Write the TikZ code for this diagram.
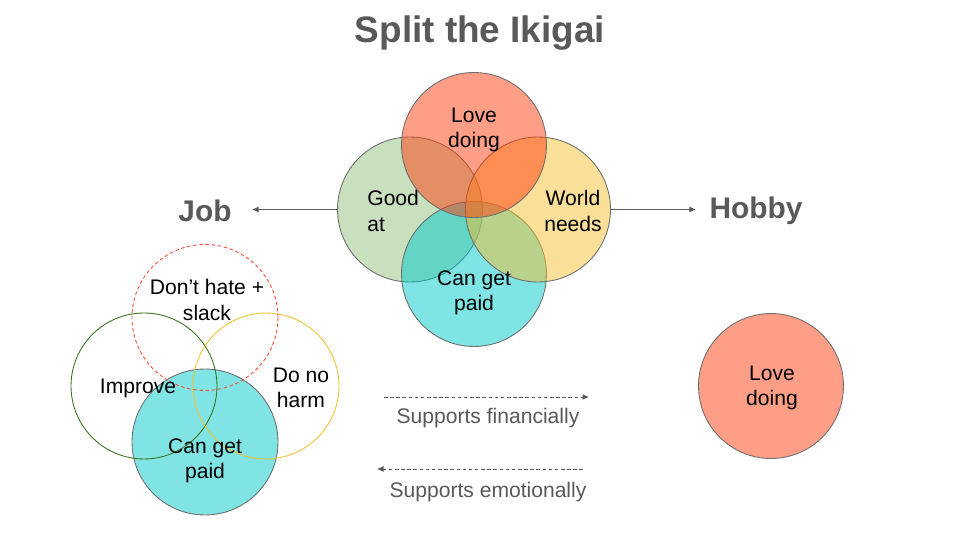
\documentclass[tikz,border=0pt]{standalone}
\usepackage{fontspec}
\setmainfont{Liberation Sans}
\usetikzlibrary{arrows.meta}
\definecolor{lovecol}{HTML}{FF3D0F}
\definecolor{goodcol}{HTML}{93C17F}
\definecolor{worldcol}{HTML}{F3BF31}
\definecolor{paidcol}{HTML}{00C9C9}
\definecolor{lovesolid}{HTML}{FF9E87}
\definecolor{paidsolid}{HTML}{80E4E4}
\definecolor{ringgray}{HTML}{6E6E6E}
\definecolor{headgray}{HTML}{595959}
\definecolor{improvecol}{HTML}{38761D}
\definecolor{harmcol}{HTML}{F1C232}
\definecolor{slackcol}{HTML}{FF4A35}

\begin{document}
\begin{tikzpicture}[x=0.02cm,y=-0.02cm,ring/.style={circle,draw=ringgray,line width=0.5pt,minimum size=2.9cm,inner sep=0pt},txt/.style={font=\fontsize{12}{14.4}\selectfont,align=center,inner sep=0pt},head/.style={font=\fontsize{17}{20}\selectfont\bfseries,text=headgray,inner sep=0pt},arrow/.style={-{Latex[length=1.3mm,width=1.2mm]},line width=0.5pt,draw=headgray},dasharrow/.style={arrow,dash pattern=on 2pt off 1.5pt},note/.style={font=\fontsize{12}{14.4}\selectfont,text=headgray,inner sep=0pt}]
\useasboundingbox (0,0) rectangle (960,540);
\node[font=\fontsize{21}{25}\selectfont\bfseries,text=headgray] (title) at (480,33) {Split the Ikigai};
% the full ikigai
\begin{scope}[fill opacity=0.5]
\node[ring,fill=goodcol] (good) at (410,209.5) {};
\node[ring,fill=paidcol] (paid) at (474,274) {};
\node[ring,fill=worldcol] (world) at (538,209.5) {};
\node[ring,fill=lovecol] (love) at (474,145) {};
\end{scope}
\node[txt] (lovetxt) at (474,130) {Love\\doing};
\node[txt,align=left,anchor=west] (goodtxt) at (367,211) {Good\\at};
\node[txt] (worldtxt) at (573,211) {World\\needs};
\node[txt] (paidtxt) at (474,293) {Can get\\paid};
\node[head] (job) at (205,211) {Job};
\node[head] (hobby) at (756,211) {Hobby};
\draw[arrow,shorten >=23\pgflinewidth] (good.west) -- (job.east|-good.west);
\draw[arrow] (world.east) -- ++(85,0) coordinate (hobbyend);
% job split
\node[ring,fill=paidsolid,minimum size=2.92cm] (jpaid) at (205,442) {};
\node[ring,draw=improvecol,minimum size=2.92cm] (improve) at (144,386) {};
\node[ring,draw=harmcol,minimum size=2.92cm] (harm) at (266,386) {};
\node[ring,draw=slackcol,dash pattern=on 2pt off 1.5pt,minimum size=2.92cm] (slack) at (205,317.5) {};
\node[txt] (slacktxt) at (207,300) {Don’t hate +\\slack};
\node[txt] (improvetxt) at (138,388) {Improve};
\node[txt] (harmtxt) at (301,388) {Do no\\harm};
\node[txt] (jpaidtxt) at (205,461) {Can get\\paid};
% hobby split
\node[ring,fill=lovesolid] (hlove) at (771,386) {};
\node[txt] (hlovetxt) at (772,388) {Love\\doing};
% support arrows
\coordinate (fin1) at (384,397);
\coordinate (fin2) at (589,397);
\coordinate (emo1) at (583,469);
\coordinate (emo2) at (377,469);
\draw[dasharrow] (fin1) -- (fin2);
\draw[dasharrow] (emo1) -- (emo2);
\node[note] (fintxt) at (488,418) {Supports financially};
\node[note] (emotxt) at (488,492) {Supports emotionally};
\end{tikzpicture}
\end{document}
